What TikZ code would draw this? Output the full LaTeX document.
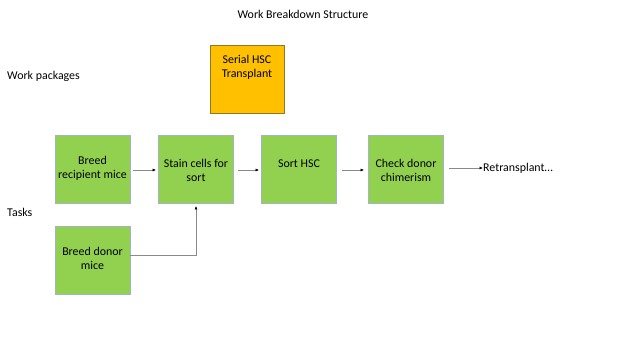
\documentclass[tikz,border=0pt]{standalone}
\usepackage{fontspec}
\setmainfont{Carlito}
\usetikzlibrary{arrows.meta}
\definecolor{taskgreen}{HTML}{92D050}
\definecolor{taskborder}{HTML}{A3B4C4}
\definecolor{wporange}{HTML}{FFC000}
\definecolor{wpborder}{HTML}{8F7A1E}
\definecolor{linegray}{HTML}{8A8A8A}
\begin{document}
\begin{tikzpicture}[x=1pt,y=-1pt,
  lbl/.style={font=\fontsize{11.9}{14}\selectfont, inner sep=0pt},
  taskbox/.style={draw=taskborder, line width=0.8pt, fill=taskgreen, minimum width=75pt, minimum height=68pt, inner sep=0pt},
  wpbox/.style={draw=wpborder, line width=0.8pt, fill=wporange, minimum width=74pt, minimum height=68pt, inner sep=0pt},
  boxtext/.style={font=\fontsize{11.9}{14}\selectfont, align=center, inner sep=0pt},
  tip/.style={-{Latex[length=3.5pt,width=3pt,color=black]}}
]
\useasboundingbox (0,0) rectangle (640,360);
\node[lbl] (title) at (303,14) {Work Breakdown Structure};
\node[lbl, anchor=west] (wplabel) at (7,76) {Work packages};
\node[lbl, anchor=west] (tasklabel) at (7,212) {Tasks};

\node[wpbox] (serial) at (247,79) {};
\node[boxtext] (serialt) at (247,67.5) {Serial HSC\\Transplant};

\node[taskbox] (recip) at (92.5,169.5) {};
\node[boxtext] (recipt) at (92.5,168) {Breed\\recipient mice};
\node[taskbox] (stain) at (196,169.5) {};
\node[boxtext] (staint) at (196,170) {Stain cells for\\sort};
\node[taskbox] (sort) at (299,169.5) {};
\node[boxtext] (sortt) at (299,164) {Sort HSC};
\node[taskbox] (check) at (406,169.5) {};
\node[boxtext] (checkt) at (406,170.5) {Check donor\\chimerism};
\node[taskbox] (donor) at (92.5,260) {};
\node[boxtext] (donort) at (92.5,258) {Breed donor\\mice};

\node[lbl, anchor=west] (retrans) at (483,168) {Retransplant\ldots};

\begin{scope}[every path/.style={draw=linegray, line width=0.6pt}]
\draw[tip, shorten <=3pt, shorten >=2pt] (recip.east |- 0,170) -- (stain.west |- 0,170);
\draw[tip, shorten <=4pt, shorten >=2pt] (stain.east |- 0,170) -- (sort.west |- 0,170);
\draw[tip, shorten <=5pt, shorten >=4pt] (sort.east |- 0,170) -- (check.west |- 0,170);
\draw[tip, shorten <=5pt, shorten >=0pt] (check.east |- 0,168) -- (retrans.west);
\draw[tip, shorten >=2pt] (donor.east |- 0,255) -| (stain.south);
\end{scope}
\end{tikzpicture}
\end{document}
